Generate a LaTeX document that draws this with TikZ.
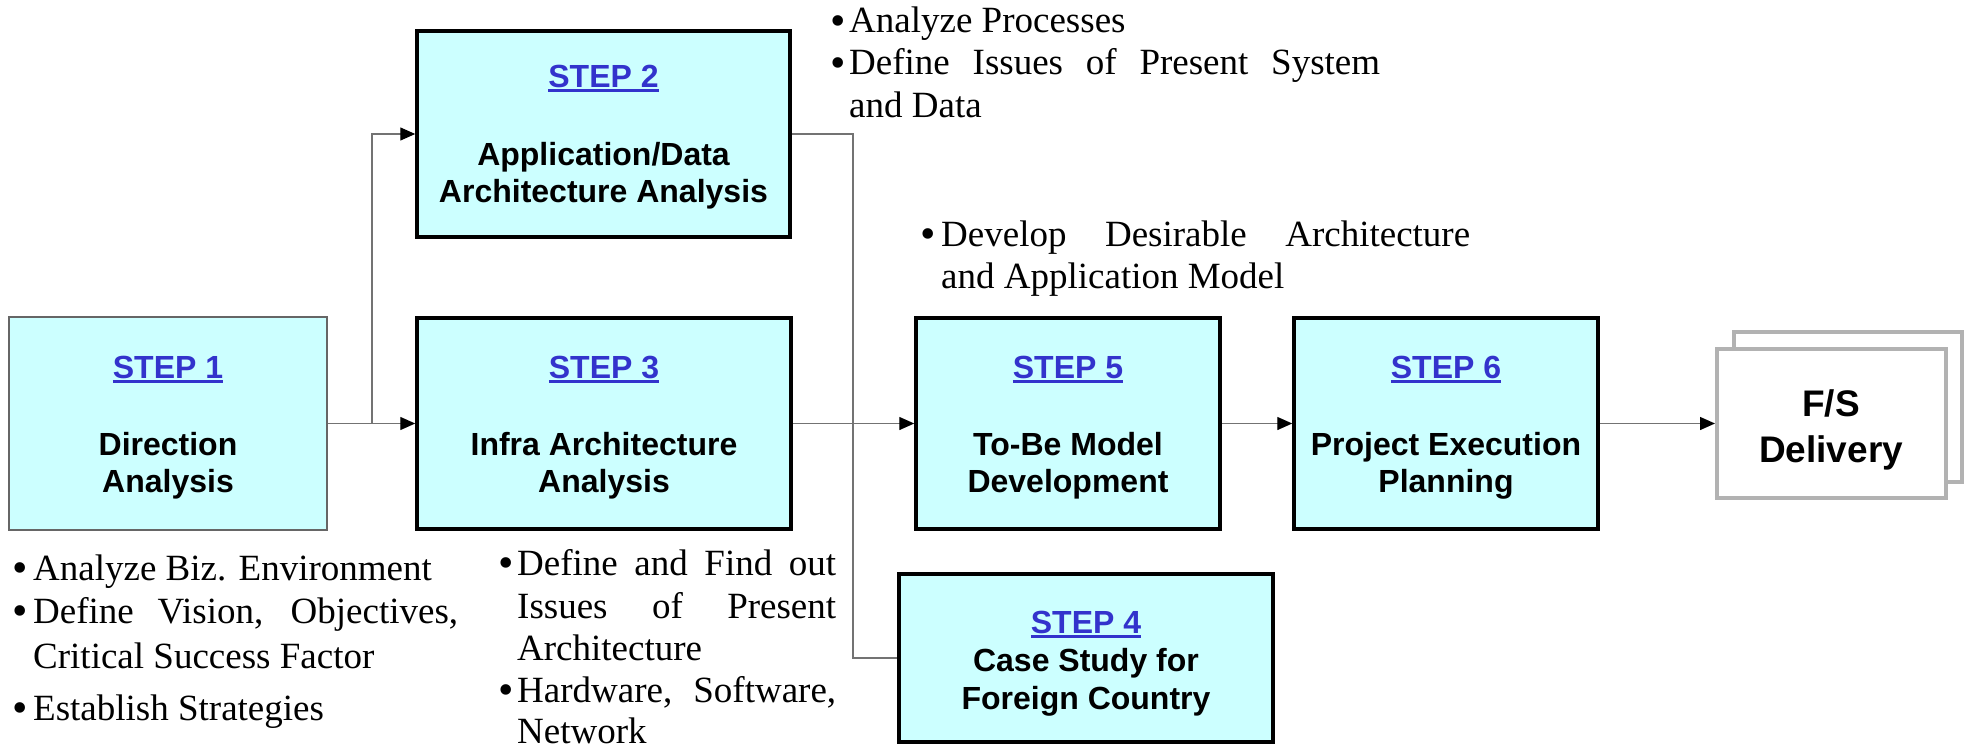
\documentclass[tikz,border=0pt]{standalone}
\usepackage{fontspec}
\usepackage{graphicx}
\setmainfont{Liberation Serif}
\setsansfont{Liberation Sans}
\usetikzlibrary{arrows.meta}
\definecolor{boxfill}{HTML}{CCFFFF}
\definecolor{stepblue}{HTML}{3333CC}
\definecolor{fsgray}{HTML}{B2B2B2}
\newcommand\steplabel[1]{{\color{stepblue}\setbox0=\hbox{#1}\rlap{\rule[-4.3pt]{\wd0}{2.6pt}}\box0}}
\newcommand\bul[1]{\makebox[#1][l]{\raisebox{-2.5pt}{\fontsize{44}{42}\selectfont\textbullet}}}
\begin{document}
\begin{tikzpicture}[x=1pt,y=-1pt,
  stepbox/.style={draw=black, line width=3.5pt, fill=boxfill, inner sep=0pt},
  firstbox/.style={draw=black!60, line width=1.6pt, fill=boxfill, inner sep=0pt},
  boxtext/.style={inner sep=0pt, align=center, anchor=north, font=\sffamily\bfseries\fontsize{32}{37}\selectfont},
  bultext/.style={inner sep=0pt, anchor=base west, font=\rmfamily\fontsize{37}{42}\selectfont},
  fsbox/.style={draw=fsgray, line width=4pt, fill=white, inner sep=0pt},
  conn/.style={draw=black!55, line width=1.4pt},
  arr/.style={conn, -{Triangle[length=15pt,width=13pt,color=black]}}
]
\useasboundingbox (0,0) rectangle (1967,749);

% boxes
\node[firstbox, minimum width=318pt, minimum height=213pt] (s1) at (168,423.5) {};
\node[stepbox, minimum width=373pt, minimum height=206pt] (s2) at (603.5,134) {};
\node[stepbox, minimum width=374pt, minimum height=211pt] (s3) at (604,423.5) {};
\node[stepbox, minimum width=374pt, minimum height=168pt] (s4) at (1086,658) {};
\node[stepbox, minimum width=304pt, minimum height=211pt] (s5) at (1068,423.5) {};
\node[stepbox, minimum width=304pt, minimum height=211pt] (s6) at (1446,423.5) {};
\node[fsbox, minimum width=228pt, minimum height=150pt] (fsb) at (1848,407) {};
\node[fsbox, minimum width=229pt, minimum height=149pt] (fs) at (1831.5,423.5) {};

% box texts
\node[boxtext] (t1) at (168,356) {\steplabel{STEP 1}\\[40pt]Direction\\Analysis};
\node[boxtext] (t2) at (603.5,65) {\steplabel{STEP 2}\\[41pt]Application/Data\\Architecture Analysis};
\node[boxtext] (t3) at (604,356) {\steplabel{STEP 3}\\[40pt]Infra Architecture\\Analysis};
\node[boxtext] (t4) at (1086,611) {\steplabel{STEP 4}\\[1pt]Case Study for\\[1pt]Foreign Country};
\node[boxtext] (t5) at (1068,356) {\steplabel{STEP 5}\\[40pt]To-Be Model\\Development};
\node[boxtext] (t6) at (1446,356) {\steplabel{STEP 6}\\[40pt]Project Execution\\Planning};
\node[boxtext, font=\sffamily\bfseries\fontsize{37}{46}\selectfont] (tfs) at (1831,389) {F/S\\Delivery};

% bullet texts, step 1
\node[bultext] (b1a) at (12,580) {\bul{21pt}Analyze Biz. Environment};
\node[bultext] (b1b) at (12,623) {\bul{21pt}\makebox[425pt][s]{Define Vision, Objectives,}};
\node[bultext] (b1c) at (33,668) {Critical Success Factor};
\node[bultext] (b1d) at (12,720) {\bul{21pt}Establish Strategies};
% step 2
\node[bultext] (b2a) at (830,33) {\bul{19pt}Analyze Processes};
\node[bultext] (b2b) at (830,75) {\bul{19pt}\makebox[531pt][s]{Define Issues of Present System}};
\node[bultext] (b2c) at (849,118) {and Data};
% step 3
\node[bultext] (b3a) at (498,575) {\bul{19pt}\makebox[319pt][s]{Define and Find out}};
\node[bultext] (b3b) at (517,618) {\makebox[319pt][s]{Issues of Present}};
\node[bultext] (b3c) at (517,660) {Architecture};
\node[bultext] (b3d) at (498,702) {\bul{19pt}\makebox[319pt][s]{Hardware, Software,}};
\node[bultext] (b3e) at (517,743) {Network};
% step 5
\node[bultext] (b5a) at (920,246) {\bul{21pt}\makebox[529pt][s]{Develop Desirable Architecture}};
\node[bultext] (b5b) at (941,288) {and Application Model};

% connectors
\coordinate (j1) at (372,423.5);
\coordinate (v2) at (853,0);
\draw[conn] (s1.east) -- (j1);
\draw[arr] (j1) -- (s3.west);
\draw[arr] (j1) |- (s2.west);
\draw[conn] (s2.east) -| (v2 |- s4.west) -- (s4.west);
\draw[arr] (s3.east) -- (s5.west);
\draw[arr] (s5.east) -- (s6.west);
\draw[arr] (s6.east) -- (fs.west);
\end{tikzpicture}
\end{document}
